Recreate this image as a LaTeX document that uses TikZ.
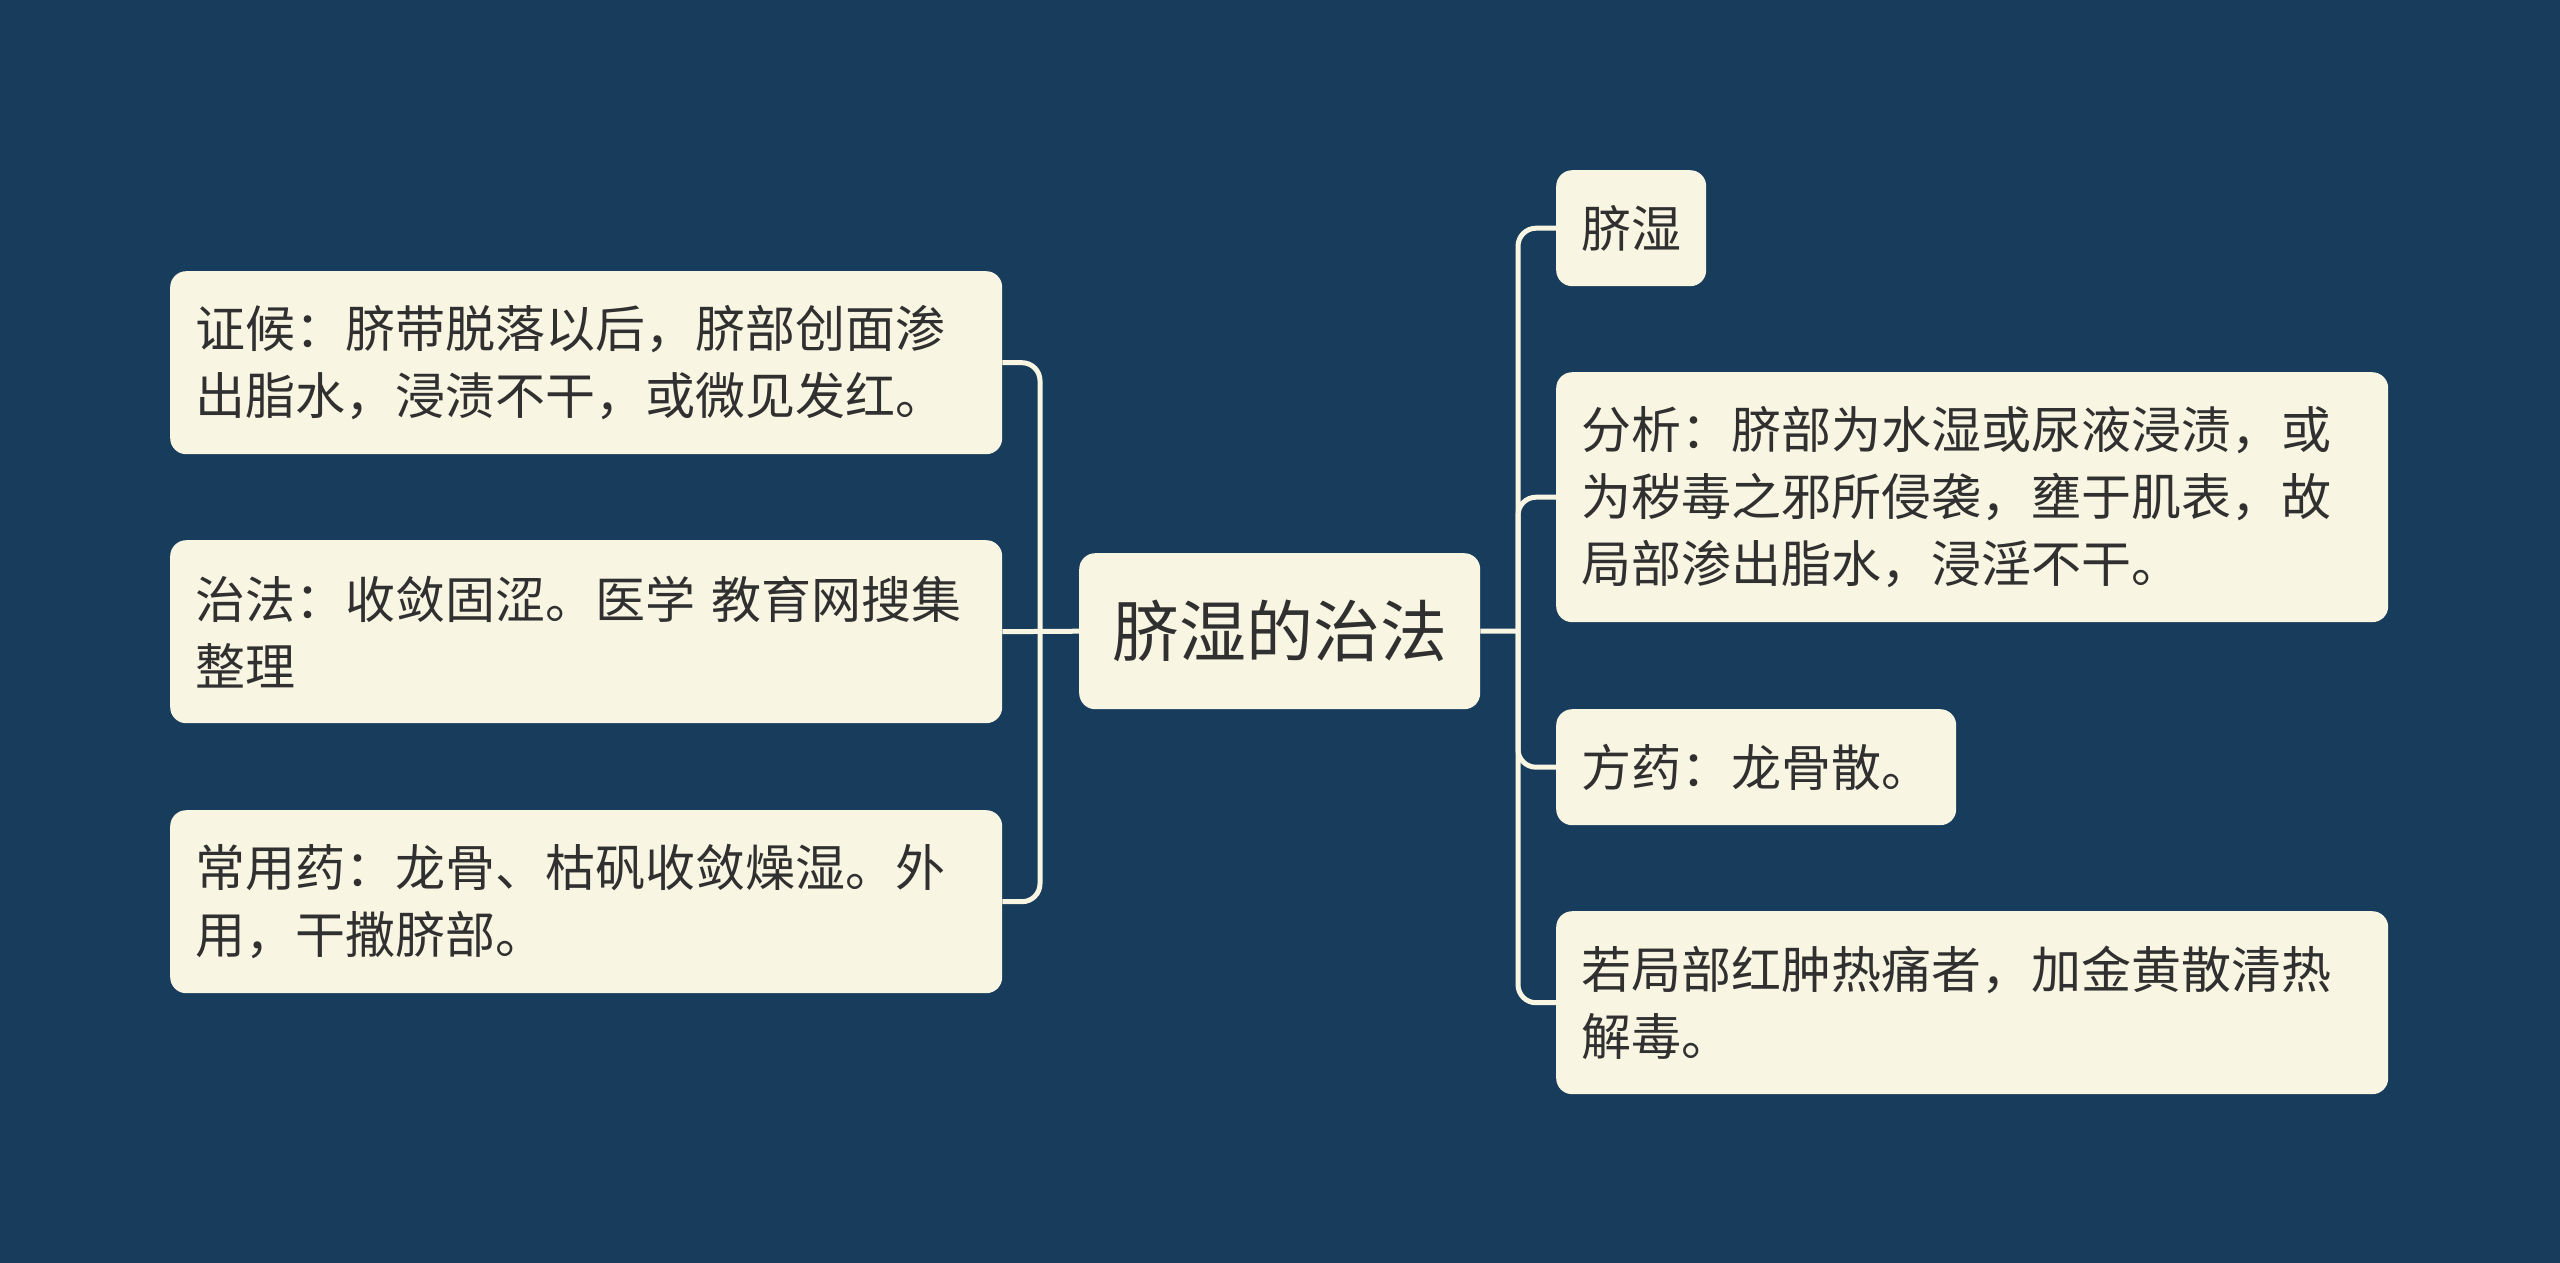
\documentclass[tikz,border=0pt]{standalone}
\usepackage{fontspec}
\setmainfont{Noto Sans CJK SC}
\definecolor{bg}{HTML}{173C5C}
\definecolor{card}{HTML}{F8F5E2}
\definecolor{ink}{HTML}{303030}
\begin{document}
\begin{tikzpicture}[x=1pt,y=-1pt,
  card/.style={fill=card, rounded corners=16pt, inner xsep=25pt, inner ysep=0pt,
    align=left, text=ink, font=\fontsize{50}{67}\selectfont, anchor=north west},
  wide/.style={card, text width=782pt},
  link/.style={draw=card, line width=5pt, rounded corners=18pt}]
\fill[bg] (0,0) rectangle (2560,1263);
\useasboundingbox (0,0) rectangle (2560,1263);

% centre
\node[card, font=\fontsize{67}{80}\selectfont, inner xsep=33pt, minimum height=156pt] (c) at (1079,553) {脐湿的治法};

% left
\node[wide, minimum height=183pt] (l1) at (170,271) {证候：脐带脱落以后，脐部创面渗\\出脂水，浸渍不干，或微见发红。};
\node[wide, minimum height=183pt] (l2) at (170,540) {治法：收敛固涩。医学 教育网搜集\\整理};
\node[wide, minimum height=183pt] (l3) at (170,810) {常用药：龙骨、枯矾收敛燥湿。外\\用，干撒脐部。};

% right
\node[card, minimum height=116pt] (r1) at (1556,170) {脐湿};
\node[wide, minimum height=250pt] (r2) at (1556,372) {分析：脐部为水湿或尿液浸渍，或\\为秽毒之邪所侵袭，壅于肌表，故\\局部渗出脂水，浸淫不干。};
\node[card, minimum height=116pt] (r3) at (1556,709) {方药：龙骨散。};
\node[wide, minimum height=183pt] (r4) at (1556,911) {若局部红肿热痛者，加金黄散清热\\解毒。};

\coordinate (jl) at (1040,631);
\coordinate (jr) at (1518,631);

\draw[link] (c.west) -- (l2.east);
\draw[link] (jl) |- (l1.east);
\draw[link] (jl) |- (l3.east);

\draw[link] (c.east) -- (jr);
\draw[link] (jr) |- (r1.west);
\draw[link] (jr) |- (r2.west);
\draw[link] (jr) |- (r3.west);
\draw[link] (jr) |- (r4.west);
\end{tikzpicture}
\end{document}
